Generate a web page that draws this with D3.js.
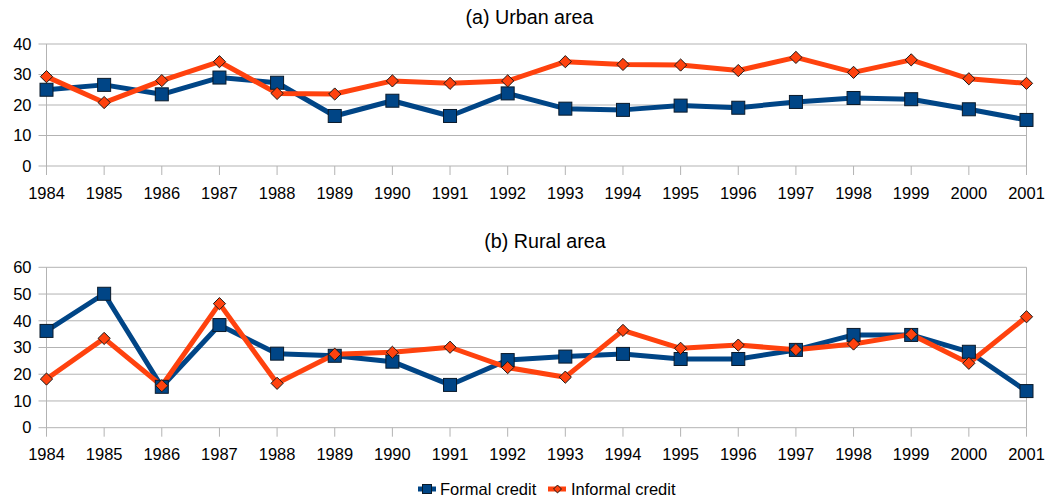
<!DOCTYPE html>
<html>
<head>
<meta charset="utf-8">
<script src="https://cdn.jsdelivr.net/npm/d3@7"></script>
<style>
  body { margin: 0; background: #fff; }
  svg { display: block; font-family: "Liberation Sans", Arial, sans-serif; }
</style>
</head>
<body>
<svg class="svg-main" width="1049" height="501"></svg>
<script>
const years = [1984, 1985, 1986, 1987, 1988, 1989, 1990, 1991, 1992,
  1993, 1994, 1995, 1996, 1997, 1998, 1999, 2000, 2001];

const urbanFormal = [25, 26.6, 23.5, 29, 27.3, 16.4, 21.4, 16.4, 23.8,
  18.8, 18.4, 19.8, 19.1, 21, 22.3, 21.9, 18.6, 15.1];
const urbanInformal = [29.3, 20.8, 28, 34.2, 23.8, 23.6, 27.9, 27.1, 27.9,
  34.2, 33.3, 33.1, 31.3, 35.6, 30.7, 34.8, 28.6, 27.1];

const ruralFormal = [36.2, 50.1, 15.3, 38.4, 27.7, 26.9, 24.7, 16, 25.3,
  26.6, 27.6, 25.7, 25.7, 29.1, 34.7, 34.7, 28.4, 13.7];
const ruralInformal = [18.2, 33.4, 15.7, 46.4, 16.6, 27.5, 28.2, 30.1, 22.5,
  18.9, 36.4, 29.7, 30.9, 29.2, 31.3, 34.9, 24.1, 41.5];

const urbanTicks = [0, 10, 20, 30, 40];
const ruralTicks = [0, 10, 20, 30, 40, 50, 60];

const seriesNames = ["Formal credit", "Informal credit"];

const blue = "#004586";
const orange = "#ff420e";
const grid = "#b3b3b3";

const svg = d3.select(".svg-main");

const x = d3.scaleLinear().domain([1984, 2001]).range([46.5, 1026.5]);

// one panel = title + axes + two lines
const drawPanel = (opts) => {
  const y = d3.scaleLinear().domain([0, opts.max]).range([opts.bottom, opts.top]);
  const g = svg.append("g");

  g.append("text")
    .attr("x", opts.titleX)
    .attr("y", opts.titleY)
    .attr("text-anchor", "middle")
    .attr("font-size", "19.7px")
    .attr("fill", "#000")
    .text(opts.title);

  // horizontal grid + left ticks
  g.append("g")
    .selectAll("line")
    .data(opts.ticks)
    .enter().append("line")
      .attr("x1", x(1984) - 8)
      .attr("x2", x(2001))
      .attr("y1", d => y(d))
      .attr("y2", d => y(d))
      .attr("stroke", grid)
      .attr("stroke-width", 1);

  g.append("g")
    .selectAll("text")
    .data(opts.ticks)
    .enter().append("text")
      .attr("x", x(1984) - 15)
      .attr("y", d => y(d))
      .attr("dy", "0.35em")
      .attr("text-anchor", "end")
      .attr("font-size", "16.5px")
      .attr("fill", "#000")
      .text(d => d);

  // left and right frame
  [1984, 2001].forEach(v => {
    g.append("line")
      .attr("x1", x(v)).attr("x2", x(v))
      .attr("y1", opts.top).attr("y2", opts.bottom)
      .attr("stroke", grid)
      .attr("stroke-width", 1);
  });

  // year ticks and labels
  g.append("g")
    .selectAll("line")
    .data(years)
    .enter().append("line")
      .attr("x1", d => x(d))
      .attr("x2", d => x(d))
      .attr("y1", opts.bottom)
      .attr("y2", opts.bottom + 9)
      .attr("stroke", grid)
      .attr("stroke-width", 1);

  g.append("g")
    .selectAll("text")
    .data(years)
    .enter().append("text")
      .attr("x", d => x(d))
      .attr("y", opts.bottom + 27)
      .attr("dy", "0.35em")
      .attr("text-anchor", "middle")
      .attr("font-size", "16.5px")
      .attr("fill", "#000")
      .text(d => d);

  const line = d3.line()
    .x((d, i) => x(years[i]))
    .y(d => y(d));

  [[opts.formal, blue], [opts.informal, orange]].forEach(([vals, col]) => {
    g.append("path")
      .datum(vals)
      .attr("d", line)
      .attr("fill", "none")
      .attr("stroke", col)
      .attr("stroke-width", 5)
      .attr("stroke-linejoin", "round");
  });

  g.append("g")
    .selectAll("rect")
    .data(opts.formal)
    .enter().append("rect")
      .attr("x", (d, i) => x(years[i]) - 6.5)
      .attr("y", d => y(d) - 6.5)
      .attr("width", 13)
      .attr("height", 13)
      .attr("fill", blue)
      .attr("stroke", "#0a1a2a")
      .attr("stroke-width", 1);

  g.append("g")
    .selectAll("path")
    .data(opts.informal)
    .enter().append("path")
      .attr("d", d3.symbol().type(d3.symbolDiamond2).size(95))
      .attr("transform", (d, i) => `translate(${x(years[i])},${y(d)})`)
      .attr("fill", orange)
      .attr("stroke", "#1a1a1a")
      .attr("stroke-width", 1);
};

drawPanel({
  title: "(a) Urban area", titleX: 529.5, titleY: 24,
  max: 40, top: 44, bottom: 166, ticks: urbanTicks,
  formal: urbanFormal, informal: urbanInformal
});

drawPanel({
  title: "(b) Rural area", titleX: 545, titleY: 248,
  max: 60, top: 267.3, bottom: 427.7, ticks: ruralTicks,
  formal: ruralFormal, informal: ruralInformal
});

// legend
const legend = svg.append("g").attr("transform", "translate(0,489)");
const legendItems = [
  { name: seriesNames[0], col: blue, x0: 418, tx: 440, shape: "square" },
  { name: seriesNames[1], col: orange, x0: 548, tx: 571, shape: "diamond" }
];
legendItems.forEach(d => {
  legend.append("line")
    .attr("x1", d.x0).attr("x2", d.x0 + 18)
    .attr("y1", 0).attr("y2", 0)
    .attr("stroke", d.col)
    .attr("stroke-width", 5);
  if (d.shape === "square") {
    legend.append("rect")
      .attr("x", d.x0 + 4.5).attr("y", -4.5)
      .attr("width", 9).attr("height", 9)
      .attr("fill", d.col)
      .attr("stroke", "#0a1a2a")
      .attr("stroke-width", 1);
  } else {
    legend.append("path")
      .attr("d", d3.symbol().type(d3.symbolDiamond2).size(40))
      .attr("transform", `translate(${d.x0 + 9.5},0)`)
      .attr("fill", d.col)
      .attr("stroke", "#1a1a1a")
      .attr("stroke-width", 1);
  }
  legend.append("text")
    .attr("x", d.tx)
    .attr("y", 0)
    .attr("dy", "0.35em")
    .attr("font-size", "16.5px")
    .attr("fill", "#000")
    .text(d.name);
});
</script>
</body>
</html>
